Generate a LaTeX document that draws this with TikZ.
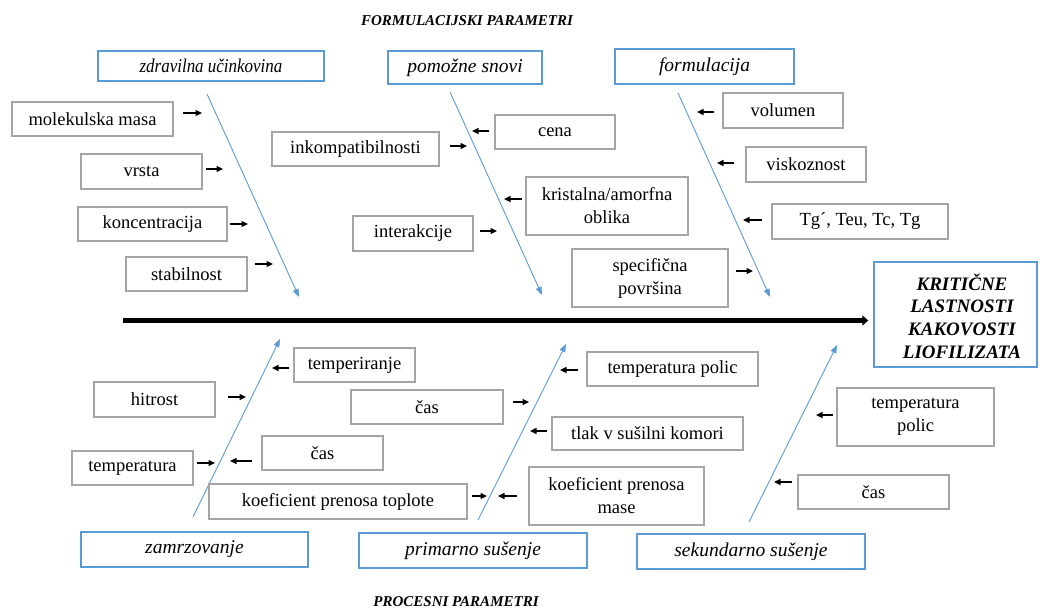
\documentclass[tikz,border=0pt]{standalone}
\usepackage{fontspec}
\usepackage{graphicx}
\setmainfont{Liberation Serif}
\usetikzlibrary{arrows.meta}
\definecolor{bblue}{RGB}{91,155,213}
\definecolor{boxgray}{RGB}{165,165,165}
\newcommand\smallarr[4]{%
  \coordinate (#1s) at (#2,#4);
  \coordinate (#1e) at (#3,#4);
  \draw[sarr] (#1s) -- (#1e);}
\begin{document}
\begin{tikzpicture}[x=1pt,y=-1pt,
  gbox/.style={draw=boxgray, line width=1.2pt, inner sep=0pt, align=center,
    font=\fontsize{18.5}{23}\selectfont},
  bbox/.style={draw=bblue, line width=1.4pt, inner sep=0pt,
    font=\fontsize{19.5}{23}\selectfont\itshape},
  hdr/.style={inner sep=0pt, anchor=base, font=\fontsize{15}{18}\selectfont\bfseries\itshape},
  bone/.style={draw=bblue, line width=0.9pt, -{Triangle[length=8pt,width=6pt]}},
  sarr/.style={black, line width=1.2pt, -{Triangle[length=6.5pt,width=6pt]}},
  spine/.style={line width=5pt, -{Triangle[length=6pt,width=10pt]}}
]
\useasboundingbox (0,0) rectangle (1040,608);

% headers
\node[hdr] (hform) at (467,25) {FORMULACIJSKI PARAMETRI};
\node[hdr] (hproc) at (456,606) {PROCESNI PARAMETRI};

% category boxes (top)
\node[bbox, minimum width=226pt, minimum height=30pt] (zdr) at (211,66) {\scalebox{0.87}[1]{zdravilna učinkovina}};
\node[bbox, minimum width=154pt, minimum height=33pt] (pom) at (465,67.5) {pomožne snovi};
\node[bbox, minimum width=179pt, minimum height=35pt] (form) at (704.5,66.5) {formulacija};

% category boxes (bottom)
\node[bbox, minimum width=227pt, minimum height=35pt] (zam) at (194.5,549.5) {zamrzovanje};
\node[bbox, minimum width=228pt, minimum height=35pt] (prim) at (473,550.5) {primarno sušenje};
\node[bbox, minimum width=228pt, minimum height=35pt] (sek) at (751,551.5) {sekundarno sušenje};

% result box
\node[draw=bblue, line width=1.4pt, minimum width=163pt, minimum height=105pt, inner sep=0pt] (krit) at (955.5,314.5) {};
\node[inner sep=0pt, align=center, font=\fontsize{19}{22.7}\selectfont\bfseries\itshape] (krittext) at (962,316) {KRITIČNE\\LASTNOSTI\\KAKOVOSTI\\LIOFILIZATA};

% spine
\coordinate (sp0) at (123,320.5);
\draw[spine, shorten >=5pt] (sp0) -- (sp0 -| krit.west);

% bones
\coordinate (b1s) at (207,94);  \coordinate (b1e) at (299,297);
\coordinate (b2s) at (450,92);  \coordinate (b2e) at (542,295);
\coordinate (b3s) at (678,93);  \coordinate (b3e) at (770,297);
\coordinate (b4s) at (193,517); \coordinate (b4e) at (280,339);
\coordinate (b5s) at (478,520); \coordinate (b5e) at (566,344);
\coordinate (b6s) at (749,522); \coordinate (b6e) at (837,345);
\foreach \i in {1,...,6} \draw[bone] (b\i s) -- (b\i e);

% top sub-boxes
\node[gbox, minimum width=161pt, minimum height=34pt] (mol) at (92.5,119) {molekulska masa};
\node[gbox, minimum width=121pt, minimum height=35pt] (vrsta) at (141.5,171.5) {vrsta};
\node[gbox, minimum width=149pt, minimum height=34pt] (konc) at (152.5,224) {koncentracija};
\node[gbox, minimum width=121pt, minimum height=34pt] (stab) at (186.5,274) {stabilnost};
\node[gbox, minimum width=167pt, minimum height=34pt] (inkomp) at (355.5,149) {inkompatibilnosti};
\node[gbox, minimum width=120pt, minimum height=34pt] (cena) at (555,132) {cena};
\node[gbox, minimum width=162pt, minimum height=58pt] (krist) at (607,206) {kristalna/amorfna\\oblika};
\node[gbox, minimum width=120pt, minimum height=35pt] (inter) at (413,233.5) {interakcije};
\node[gbox, minimum width=156pt, minimum height=58pt] (spec) at (650,278) {specifična\\površina};
\node[gbox, minimum width=120pt, minimum height=35pt] (vol) at (783,110.5) {volumen};
\node[gbox, minimum width=120pt, minimum height=35pt] (visk) at (806,164.5) {viskoznost};
\node[gbox, minimum width=176pt, minimum height=35pt] (tg) at (860,221.5) {Tg´, Teu, Tc, Tg};

% bottom sub-boxes
\node[gbox, minimum width=121pt, minimum height=34pt] (temper) at (354.5,365) {temperiranje};
\node[gbox, minimum width=121pt, minimum height=35pt] (hitrost) at (154.5,399.5) {hitrost};
\node[gbox, minimum width=152pt, minimum height=34pt] (casa) at (427,407) {čas};
\node[gbox, minimum width=121pt, minimum height=34pt] (casb) at (322.5,453) {čas};
\node[gbox, minimum width=121pt, minimum height=34pt] (temp) at (132.5,468) {temperatura};
\node[gbox, minimum width=258pt, minimum height=35pt] (koeft) at (338,501.5) {koeficient prenosa toplote};
\node[gbox, minimum width=171pt, minimum height=34pt] (tpola) at (672.5,369) {temperatura polic};
\node[gbox, minimum width=191pt, minimum height=33pt] (tlak) at (647.5,433.5) {tlak v sušilni komori};
\node[gbox, minimum width=175pt, minimum height=58pt] (koefm) at (616.5,496) {koeficient prenosa\\mase};
\node[gbox, minimum width=157pt, minimum height=58pt] (tpolb) at (915.5,417) {temperatura\\polic};
\node[gbox, minimum width=151pt, minimum height=34pt] (casc) at (873.5,492) {čas};

% small arrows (top)
\smallarr{m1}{183}{202}{113}
\smallarr{m2}{206}{223}{169}
\smallarr{m3}{230}{248}{224}
\smallarr{m4}{255}{273}{264}
\smallarr{i1}{450}{467}{146}
\smallarr{c1}{489}{472}{131}
\smallarr{k1}{522}{504}{199}
\smallarr{n1}{480}{497}{231}
\smallarr{s1}{736}{753}{271}
\smallarr{v1}{714}{697}{112}
\smallarr{w1}{734}{717}{163}
\smallarr{t1}{762}{743}{220}
% small arrows (bottom)
\smallarr{te}{289}{272}{368}
\smallarr{hi}{228}{246}{397}
\smallarr{ca}{513}{529}{402}
\smallarr{cb}{252}{230}{461}
\smallarr{tm}{197}{215}{463}
\smallarr{kt}{472}{487}{496}
\smallarr{pa}{578}{560}{370}
\smallarr{tl}{547}{530}{431}
\smallarr{km}{517}{498}{496}
\smallarr{pb}{833}{816}{415}
\smallarr{cc}{792}{774}{482}
\end{tikzpicture}
\end{document}
